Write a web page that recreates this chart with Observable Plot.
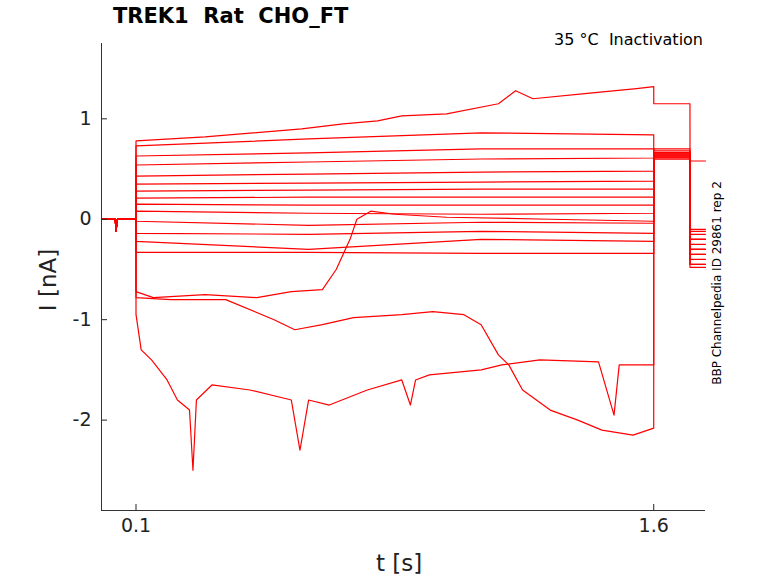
<!DOCTYPE html>
<html><head><meta charset="utf-8">
<script src="https://cdn.jsdelivr.net/npm/d3@7"></script>
<script src="https://cdn.jsdelivr.net/npm/@observablehq/plot@0.6"></script>
<style>body{margin:0;background:#fff;font-family:"DejaVu Sans",sans-serif}#c{position:relative;width:778px;height:583px}
.t{position:absolute;white-space:nowrap;color:#222}</style></head><body>
<div id="c"></div>
<script>
// Flat-ish traces: values at times 0.1, 0.6, 1.1, 1.6, then level during 1.6-1.705, level after 1.705
const flatTimes = [0.1, 0.6, 1.1, 1.6];
const flatTraces = [
  [0.73,0.80,0.86,0.84, 0.68,-0.45],
  [0.63,0.66,0.70,0.70, 0.66,-0.3],
  [0.54,0.57,0.60,0.61, 0.64,-0.2],
  [0.43,0.45,0.47,0.48, 0.62,-0.1],
  [0.35,0.36,0.37,0.38, 0.60,-0.15],
  [0.28,0.29,0.30,0.30, 0.66,-0.35],
  [0.21,0.22,0.22,0.22, 0.64,-0.25],
  [0.15,0.14,0.14,0.14, 0.62,-0.4],
  [0.08,0.06,0.05,0.06, 0.70,-0.12],
  [-0.02,-0.06,-0.03,-0.04, 0.60,-0.2],
  [-0.14,-0.15,-0.12,-0.14, 0.66,-0.48],
  [-0.22,-0.30,-0.20,-0.22, 0.62,-0.3],
  [-0.33,-0.33,-0.34,-0.34, 0.64,-0.45]
];
const topTrace = [[0.1,0.78],[0.3,0.82],[0.58,0.9],[0.7,0.95],[0.8,0.98],[0.87,1.03],[1.0,1.05],[1.15,1.15],[1.2,1.28],[1.25,1.2],[1.4,1.25],[1.55,1.3],[1.6,1.32],[1.6001,1.15],[1.705,1.15],[1.7051,0.58],[1.75,0.58]];
const traceA = [[0.1,-0.72],[0.15,-0.78],[0.3,-0.75],[0.45,-0.78],[0.55,-0.72],[0.64,-0.7],[0.68,-0.5],[0.72,-0.2],[0.74,0],[0.78,0.08],[0.85,0.05],[1.0,0.02],[1.3,0.0],[1.6,-0.02],[1.6001,0.64],[1.705,0.64],[1.7051,-0.3],[1.75,-0.3]];
const traceB = [[0.1,-0.78],[0.2,-0.8],[0.36,-0.8],[0.5,-1.0],[0.56,-1.1],[0.64,-1.05],[0.73,-0.98],[0.87,-0.95],[0.96,-0.92],[1.05,-0.95],[1.1,-1.05],[1.15,-1.35],[1.18,-1.45],[1.22,-1.7],[1.3,-1.9],[1.38,-2.0],[1.45,-2.1],[1.54,-2.15],[1.6,-2.08],[1.6001,0.66],[1.705,0.66],[1.7051,-0.2],[1.75,-0.2]];
const traceC = [[0.1,-0.95],[0.115,-1.3],[0.145,-1.4],[0.19,-1.6],[0.22,-1.8],[0.255,-1.9],[0.265,-2.5],[0.275,-1.8],[0.32,-1.65],[0.43,-1.7],[0.55,-1.8],[0.575,-2.3],[0.6,-1.8],[0.66,-1.85],[0.77,-1.7],[0.87,-1.6],[0.895,-1.85],[0.91,-1.6],[0.95,-1.55],[1.1,-1.5],[1.16,-1.45],[1.27,-1.4],[1.44,-1.42],[1.485,-1.95],[1.5,-1.45],[1.6,-1.45],[1.6001,0.62],[1.705,0.62],[1.7051,-0.35],[1.75,-0.35]];
const pre = [[0,0],[0.04,0],[0.042,-0.12],[0.046,0],[0.0999,0]];
const xTicks = [0.1, 1.6];
const yTicks = [-2, -1, 0, 1];

const rows = [];
function add(id, pts){ for(const [t,v] of pts) rows.push({id,t,v}); }
add("top", [...pre, ...topTrace]);
add("A", [...pre, ...traceA]);
add("B", [...pre, ...traceB]);
add("C", [...pre, ...traceC]);
flatTraces.forEach((f,i)=>{
  const pts=[...pre, ...flatTimes.map((t,j)=>[t,f[j]]), [1.6001,f[4]],[1.705,f[4]],[1.7051,f[5]],[1.75,f[5]]];
  add("f"+i, pts);
});

const chart = Plot.plot({
  width:778, height:583, marginLeft:101, marginRight:73, marginTop:43, marginBottom:73,
  style:{fontFamily:"DejaVu Sans", color:"#222"},
  x:{domain:[0,1.75]},
  y:{domain:[-2.9,1.75]},
  marks:[
    Plot.line(rows,{x:"t",y:"v",z:"id",stroke:"red",strokeWidth:1.2}),
    Plot.axisX({ticks:xTicks,tickFormat:d=>String(d),tickSize:-6,tickPadding:14,fontSize:19,label:null}),
    Plot.axisY({ticks:yTicks,tickFormat:d=>String(d),tickSize:-6,tickPadding:16,fontSize:19,label:null}),
    Plot.ruleX([0],{stroke:"#333"}),
    Plot.ruleY([-2.9],{stroke:"#333"})
  ]
});
const c=document.getElementById("c");
c.appendChild(chart);
c.insertAdjacentHTML("beforeend",`
<div class="t" style="left:113px;top:4px;font-size:21px;font-weight:bold;color:#000">TREK1&nbsp; Rat&nbsp; CHO_FT</div>
<div class="t" style="right:75px;top:30px;font-size:16px;color:#000">35 °C&nbsp; Inactivation</div>
<div class="t" style="left:376px;top:550px;font-size:23px">t [s]</div>
<div class="t" style="left:48px;top:280px;font-size:23px;transform:translate(-50%,-50%) rotate(-90deg)">I [nA]</div>
<div class="t" style="left:717px;top:283px;font-size:12px;color:#000;transform:translate(-50%,-50%) rotate(-90deg)">BBP Channelpedia ID 29861 rep 2</div>
`);
</script></body></html>
